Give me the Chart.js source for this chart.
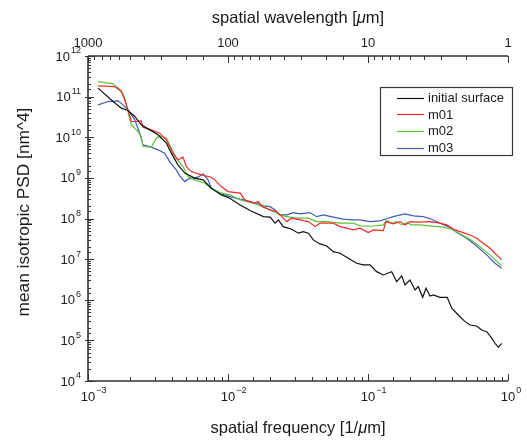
<!DOCTYPE html>
<html>
<head>
<meta charset="utf-8">
<script src="https://cdn.jsdelivr.net/npm/chart.js@4.4.1/dist/chart.umd.min.js"></script>
<style>
  html, body { margin: 0; padding: 0; background: #ffffff; }
</style>
</head>
<body>
<canvas id="c" width="527" height="441"></canvas>
<script>
// ---- data ----
const seriesNames = ['initial surface', 'm01', 'm02', 'm03'];

const initialFreq = [1.18e-3,1.51e-3,1.73e-3,1.93e-3,2.16e-3,2.40e-3,2.76e-3,3.16e-3,3.63e-3,3.94e-3,
  4.39e-3,4.91e-3,5.78e-3,6.63e-3,7.60e-3,8.96e-3,1.03e-2,1.22e-2,1.44e-2,1.79e-2,
  2.00e-2,2.17e-2,2.29e-2,2.48e-2,2.85e-2,3.18e-2,3.45e-2,3.75e-2,4.07e-2,4.54e-2,
  5.07e-2,5.65e-2,6.31e-2,7.04e-2,8.30e-2,9.25e-2,0.1033,0.1153,0.1286,0.1476,
  0.1603,0.1741,0.1837,0.1995,0.2168,0.2286,0.2460,0.2596,0.2773,0.2925,
  0.3266,0.3682,0.3963,0.4416,0.4932,0.5354,0.5970,0.6486,0.7047,0.7656,
  0.8075,0.853,0.9016];
const initialPSD = [1.62e11,7.57e10,5.21e10,4.55e10,3.24e10,2.02e10,1.52e10,1.15e10,7.16e9,4.06e9,
  2.09e9,1.31e9,9.84e8,8.93e8,5.57e8,3.81e8,3.16e8,2.16e8,1.57e8,1.11e8,
  1.08e8,7.66e7,9.24e7,6.31e7,5.45e7,4.35e7,4.75e7,4.35e7,2.97e7,2.37e7,
  2.11e7,1.53e7,1.40e7,1.11e7,7.93e6,7.20e6,7.20e6,4.92e6,4.08e6,4.92e6,
  2.79e6,3.86e6,2.31e6,3.07e6,1.74e6,2.10e6,1.15e6,1.92e6,1.24e6,1.31e6,
  1.15e6,1.15e6,6.18e5,4.22e5,2.89e5,2.39e5,2.26e5,1.80e5,1.64e5,1.13e5,
  8.49e4,6.76e4,8.49e4];

const m01Freq = [1.18e-3,1.55e-3,1.73e-3,1.83e-3,1.93e-3,2.04e-3,2.21e-3,2.40e-3,2.47e-3,2.83e-3,
  3.25e-3,3.63e-3,4.05e-3,4.39e-3,4.77e-3,5.04e-3,5.47e-3,6.45e-3,7.60e-3,8.04e-3,
  8.96e-3,1.00e-2,1.22e-2,1.32e-2,1.52e-2,1.65e-2,1.74e-2,2.00e-2,2.23e-2,2.42e-2,
  2.63e-2,2.85e-2,3.27e-2,3.75e-2,4.18e-2,4.54e-2,5.65e-2,6.31e-2,7.04e-2,7.85e-2,
  8.77e-2,0.1005,0.1091,0.1286,0.1345,0.1516,0.1693,0.1837,0.1995,0.2286,
  0.2773,0.3266,0.3648,0.4181,0.4793,0.5354,0.5970,0.6668,0.7430,0.8300,
  0.9016];
const m01PSD = [1.84e11,1.77e11,1.34e11,8.34e10,4.73e10,2.44e10,2.44e10,2.54e10,1.77e10,1.52e10,
  1.26e10,8.63e9,4.06e9,2.78e9,3.24e9,1.90e9,1.43e9,1.19e9,1.04e9,8.93e8,
  6.11e8,4.60e8,4.20e8,2.87e8,2.38e8,2.61e8,1.96e8,1.63e8,1.48e8,1.11e8,
  8.39e7,1.02e8,9.24e7,8.39e7,6.31e7,7.66e7,7.66e7,6.31e7,5.77e7,5.24e7,
  5.77e7,4.50e7,5.24e7,5.04e7,8.39e7,7.36e7,8.39e7,6.95e7,8.39e7,8.11e7,
  8.39e7,7.66e7,6.95e7,5.24e7,4.50e7,3.94e7,3.27e7,2.46e7,1.85e7,1.27e7,
  9.55e6];

const m02Freq = [1.18e-3,1.51e-3,1.73e-3,1.83e-3,1.93e-3,2.04e-3,2.28e-3,2.40e-3,2.47e-3,2.83e-3,
  3.08e-3,3.25e-3,3.63e-3,3.94e-3,4.27e-3,4.77e-3,5.18e-3,5.78e-3,6.82e-3,7.60e-3,
  8.96e-3,1.03e-2,1.22e-2,1.52e-2,1.79e-2,2.11e-2,2.35e-2,2.63e-2,3.10e-2,3.75e-2,
  4.30e-2,5.07e-2,6.31e-2,7.85e-2,8.77e-2,0.1033,0.1286,0.1360,0.1477,0.1603,
  0.1741,0.1889,0.2052,0.2351,0.2773,0.3451,0.3963,0.4540,0.5354,0.6310,
  0.7430,0.9016];
const m02PSD = [2.35e11,2.07e11,1.41e11,9.18e10,4.30e10,2.02e10,1.38e10,1.04e10,5.90e9,5.70e9,
  9.51e9,1.08e10,9.51e9,5.39e9,3.06e9,1.90e9,1.08e9,8.93e8,7.40e8,5.57e8,
  4.20e8,3.81e8,2.87e8,2.38e8,1.96e8,1.48e8,1.23e8,1.11e8,1.02e8,1.02e8,
  8.39e7,8.39e7,7.66e7,7.66e7,6.57e7,6.45e7,6.95e7,8.87e7,7.66e7,8.39e7,
  6.95e7,7.93e7,6.95e7,6.95e7,6.57e7,6.11e7,5.45e7,4.18e7,3.09e7,2.03e7,
  1.27e7,6.81e6];

const m03Freq = [1.18e-3,1.39e-3,1.64e-3,1.78e-3,1.93e-3,2.16e-3,2.34e-3,2.47e-3,2.83e-3,3.16e-3,
  3.53e-3,3.83e-3,4.27e-3,4.52e-3,4.91e-3,5.18e-3,6.11e-3,6.63e-3,7.20e-3,7.60e-3,
  8.72e-3,1.03e-2,1.22e-2,1.36e-2,1.60e-2,1.79e-2,2.00e-2,2.17e-2,2.35e-2,2.63e-2,
  2.93e-2,3.27e-2,3.85e-2,4.30e-2,4.79e-2,5.65e-2,6.66e-2,7.85e-2,8.77e-2,0.1033,
  0.1218,0.1323,0.1516,0.1837,0.2107,0.2483,0.2851,0.3266,0.3746,0.4302,
  0.5070,0.5970,0.7047,0.8075,0.9016];
const m03PSD = [6.28e10,7.57e10,7.88e10,6.28e10,4.73e10,2.68e10,1.26e10,6.50e9,5.70e9,4.90e9,
  4.06e9,2.52e9,1.57e9,1.12e9,8.11e8,9.29e8,1.04e9,1.26e9,8.93e8,5.57e8,
  4.20e8,3.46e8,2.99e8,2.76e8,2.38e8,2.04e8,1.96e8,1.63e8,1.23e8,1.23e8,
  1.40e8,1.30e8,1.40e8,1.11e8,1.23e8,1.08e8,9.61e7,9.24e7,9.24e7,8.39e7,
  8.73e7,9.61e7,1.11e8,1.30e8,1.16e8,1.11e8,9.61e7,7.66e7,6.31e7,4.50e7,
  3.27e7,2.11e7,1.27e7,7.93e6,5.97e6];

// tick labels
const yTickExponents = [4, 5, 6, 7, 8, 9, 10, 11, 12];
const xTickExponents = [-3, -2, -1, 0];
const topTickLabels = [1000, 100, 10, 1];

const xTitleText = ['spatial frequency [1/', 'μ', 'm]'];
const topTitleText = ['spatial wavelength [', 'μ', 'm]'];
const yTitleText = 'mean isotropic PSD [nm^4]';

// ---- styles ----
const colors = ['#111111', '#f02a2a', '#5cc23c', '#3f5bb5'];
const AXIS = '#333333';
const FONT = '"Liberation Sans", Arial, Helvetica, sans-serif';

function pts(f, p) { return f.map((v, i) => ({ x: v, y: p[i] })); }
const seriesData = [pts(initialFreq, initialPSD), pts(m01Freq, m01PSD), pts(m02Freq, m02PSD), pts(m03Freq, m03PSD)];

function isMajor(v) {
  const e = Math.floor(Math.log10(v) + 1e-9);
  const m = v / Math.pow(10, e);
  return Math.abs(m - 1) < 1e-6;
}

function drawPow(ctx, exp, x, y, align) {
  const base = '10', sup = String(exp).replace('-', '\u2212');
  ctx.font = '13px ' + FONT;
  const wb = ctx.measureText(base).width;
  ctx.font = '9px ' + FONT;
  const ws = ctx.measureText(sup).width;
  const xb = align === 'right' ? x - wb - ws - 1 : x - wb / 2;
  ctx.textBaseline = 'middle';
  ctx.textAlign = 'left';
  ctx.font = '13px ' + FONT;
  ctx.fillText(base, xb, y);
  ctx.font = '9px ' + FONT;
  ctx.fillText(sup, xb + wb + 1, y - 6);
}

function drawRuns(ctx, runs, cx, cy, size) {
  const fonts = runs.map((r, i) => (i === 1 ? 'italic ' : '') + size + 'px ' + FONT);
  let total = 0;
  const widths = runs.map((r, i) => { ctx.font = fonts[i]; const w = ctx.measureText(r).width; total += w; return w; });
  let x = cx - total / 2;
  ctx.textAlign = 'left';
  ctx.textBaseline = 'middle';
  runs.forEach((r, i) => { ctx.font = fonts[i]; ctx.fillText(r, x, cy); x += widths[i]; });
}

function tickValues(scale) {
  return (scale.ticks || []).map(t => t.value).filter(v => v >= scale.min * 0.999 && v <= scale.max * 1.001);
}

const axesPlugin = {
  id: 'matlabAxes',
  afterDraw(chart) {
    const ctx = chart.ctx, a = chart.chartArea;
    const xs = chart.scales.x, xt = chart.scales.x2, ys = chart.scales.y;
    const L = Math.round(a.left), R = Math.round(a.right);
    const T = Math.round(a.top), B = Math.round(a.bottom);
    ctx.save();
    // ticks (1px)
    ctx.strokeStyle = AXIS;
    ctx.lineWidth = 1;
    ctx.beginPath();
    tickValues(xs).forEach(v => {
      const px = Math.round(xs.getPixelForValue(v)) + 0.5;
      const len = isMajor(v) ? 7 : 4;
      ctx.moveTo(px, B); ctx.lineTo(px, B - len);
    });
    tickValues(xt).forEach(v => {
      const px = Math.round(xt.getPixelForValue(v)) + 0.5;
      const len = isMajor(v) ? 7 : 4;
      ctx.moveTo(px, T); ctx.lineTo(px, T + len);
    });
    tickValues(ys).forEach(v => {
      const py = Math.round(ys.getPixelForValue(v)) + 0.5;
      const maj = isMajor(v);
      ctx.moveTo(L - (maj ? 3 : 0), py); ctx.lineTo(L + (maj ? 6 : 3), py);
    });
    ctx.stroke();
    // axis lines (slightly heavier)
    ctx.lineWidth = 1.6;
    ctx.beginPath();
    ctx.moveTo(L, T); ctx.lineTo(L, B); ctx.lineTo(R, B);
    ctx.moveTo(L, T); ctx.lineTo(R, T);
    ctx.stroke();

    ctx.fillStyle = '#1a1a1a';
    yTickExponents.forEach(e => {
      drawPow(ctx, e, a.left - 7, ys.getPixelForValue(Math.pow(10, e)) + 1, 'right');
    });
    xTickExponents.forEach(e => {
      drawPow(ctx, e, xs.getPixelForValue(Math.pow(10, e)), a.bottom + 16, 'center');
    });
    ctx.font = '13px ' + FONT;
    ctx.textAlign = 'center';
    ctx.textBaseline = 'middle';
    topTickLabels.forEach(v => {
      ctx.fillText(String(v), xt.getPixelForValue(v), a.top - 13);
    });
    const cx = (a.left + a.right) / 2;
    drawRuns(ctx, topTitleText, cx, 18, 16.5);
    drawRuns(ctx, xTitleText, cx, 428, 16.5);
    ctx.save();
    ctx.translate(24, 212);
    ctx.rotate(-Math.PI / 2);
    ctx.font = '17.3px ' + FONT;
    ctx.textAlign = 'center';
    ctx.textBaseline = 'middle';
    ctx.fillText(yTitleText, 0, 0);
    ctx.restore();

    // legend
    const lx0 = Math.round(a.right - 128), lx1 = Math.round(a.right + 4), ly0 = Math.round(a.top + 31), rowH = 16.7;
    const ly1 = Math.round(ly0 + rowH * seriesNames.length + 1);
    ctx.fillStyle = '#ffffff';
    ctx.fillRect(lx0, ly0, lx1 - lx0, ly1 - ly0);
    ctx.strokeStyle = '#3a3a3a';
    ctx.lineWidth = 1.2;
    ctx.strokeRect(lx0 + 0.5, ly0 + 0.5, lx1 - lx0, ly1 - ly0);
    ctx.font = '13px ' + FONT;
    ctx.textAlign = 'left';
    ctx.textBaseline = 'middle';
    seriesNames.forEach((n, i) => {
      const yy = ly0 + 10.5 + i * rowH;
      ctx.strokeStyle = colors[i];
      ctx.lineWidth = 1.2;
      ctx.beginPath();
      ctx.moveTo(lx0 + 17, Math.round(yy) + 0.5);
      ctx.lineTo(lx0 + 44, Math.round(yy) + 0.5);
      ctx.stroke();
      ctx.fillStyle = '#1a1a1a';
      ctx.fillText(n, lx0 + 48, yy + 1);
    });
    ctx.restore();
  }
};

new Chart(document.getElementById('c'), {
  type: 'line',
  data: {
    datasets: seriesNames.map((n, i) => ({
      label: n,
      data: seriesData[i],
      borderColor: colors[i],
      backgroundColor: colors[i],
      borderWidth: 1.2,
      pointRadius: 0,
      tension: 0,
      fill: false
    }))
  },
  options: {
    responsive: false,
    animation: false,
    devicePixelRatio: 1,
    layout: { padding: { left: 0, right: 19, top: 0, bottom: 0 } },
    plugins: { legend: { display: false }, tooltip: { enabled: false } },
    scales: {
      x: {
        type: 'logarithmic', position: 'bottom', min: 1e-3, max: 1,
        ticks: { display: false }, grid: { display: false }, border: { display: false },
        afterFit: s => { s.height = 60; }
      },
      x2: {
        type: 'logarithmic', position: 'top', reverse: true, min: 1, max: 1000,
        ticks: { display: false }, grid: { display: false }, border: { display: false },
        afterFit: s => { s.height = 56; }
      },
      y: {
        type: 'logarithmic', position: 'left', min: 1e4, max: 1e12,
        ticks: { display: false }, grid: { display: false }, border: { display: false },
        afterFit: s => { s.width = 88; }
      }
    }
  },
  plugins: [axesPlugin]
});
</script>
</body>
</html>
